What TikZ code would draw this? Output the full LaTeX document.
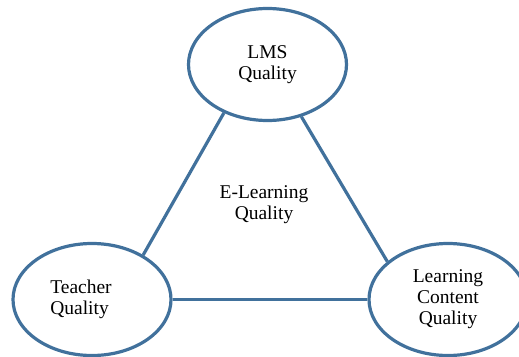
\documentclass[tikz,border=0pt]{standalone}
\usepackage{fontspec}
\setmainfont{Liberation Serif}
\usetikzlibrary{shapes.geometric}
\definecolor{edgeblue}{HTML}{41719C}
\tikzset{
  factor/.style={ellipse, draw=edgeblue, line width=3.2pt, minimum width=158pt, minimum height=112pt, inner sep=0pt, align=center, font=\fontsize{19.5}{21}\selectfont},
  link/.style={draw=edgeblue, line width=3.2pt},
  lbl/.style={align=center, font=\fontsize{19.5}{21}\selectfont}
}
\begin{document}
\begin{tikzpicture}[x=1pt,y=-1pt]
\useasboundingbox (0,0) rectangle (519,356);
\node[factor] (lms) at (267.5,64.5) {LMS\\Quality};
\node[factor] (teach) at (92,299.5) {};
\node[lbl, align=left] (teachtxt) at (81,299) {Teacher\\Quality};
\node[factor] (cont) at (448,299.5) {Learning\\Content\\Quality};
\node[lbl] (el) at (264,205) {E-Learning\\Quality};
\draw[link] (teach.41.7) -- (lms.228.6);
\draw[link] (lms.303.3) -- (cont.148.4);
\draw[link] (teach.east) -- (cont.west);
\end{tikzpicture}
\end{document}
